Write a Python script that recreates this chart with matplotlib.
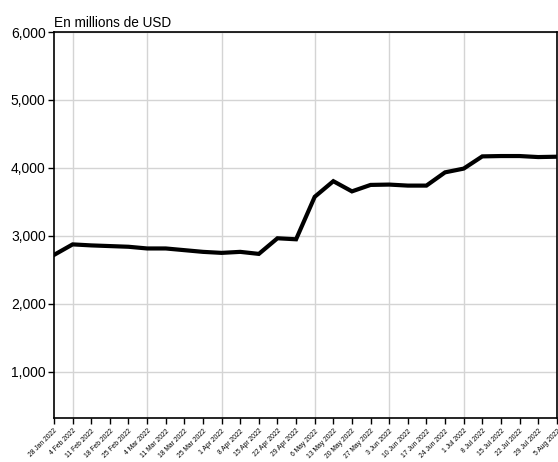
import numpy as np
import pandas as pd
import matplotlib
matplotlib.use("Agg")
import matplotlib.pyplot as plt
import matplotlib.dates as mdates

plt.rcParams['font.family'] = ['Liberation Sans', 'DejaVu Sans']

# weekly values, en millions de USD
dates = pd.date_range("2022-01-28", "2022-08-05", freq="7D")
values = [2720, 2875, 2860, 2850, 2840, 2815, 2815, 2790, 2765, 2750,
          2765, 2735, 2965, 2950, 3575, 3805, 3655, 3750, 3755, 3740,
          3740, 3935, 3990, 4170, 4175, 4175, 4160, 4165]
yticks = [1000, 2000, 3000, 4000, 5000, 6000]

fig = plt.figure(figsize=(5.58, 4.62), dpi=100)
ax = fig.add_axes([0.0968, 0.0952, 0.901, 0.8355])

ax.plot(dates, values, color='black', lw=3.0, solid_joinstyle='miter', zorder=3)

ax.set_ylim(320, 6000)
ax.set_xlim(dates[0], dates[-1])
ax.set_yticks(yticks)
ax.set_yticklabels([f"{v:,}" for v in yticks], fontsize=10)
ax.set_xticks(dates)
ax.set_xticklabels([f"{d.day} {d.strftime('%b %Y')}" for d in dates],
                   rotation=45, ha='right', rotation_mode='anchor', fontsize=4.9)

# monthly gridlines (first Friday of each month) + horizontal gridlines
for d in dates:
    if d.day <= 7:
        ax.axvline(d, color='#d4d4d4', lw=1, zorder=1)
ax.yaxis.grid(True, color='#d4d4d4', lw=1, zorder=1)
ax.set_axisbelow(True)

ax.tick_params(axis='y', length=4, width=1, direction='out', pad=2)
ax.tick_params(axis='x', length=4, width=1, direction='out', pad=3)
for s in ax.spines.values():
    s.set_linewidth(1.2)

ax.text(0.0, 1.005, "En millions de USD", transform=ax.transAxes,
        fontsize=9.8, ha='left', va='bottom')

fig.savefig("out.png", dpi=100)
